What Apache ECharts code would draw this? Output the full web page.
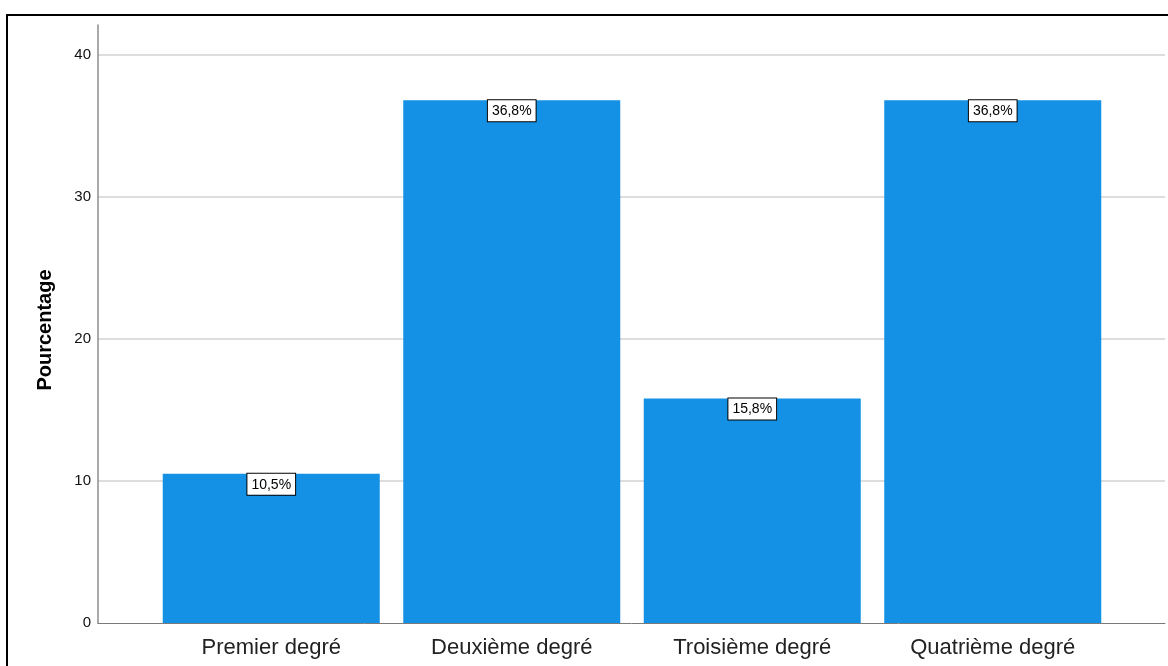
<!DOCTYPE html>
<html>
<head>
<meta charset="utf-8">
<script src="https://cdn.jsdelivr.net/npm/echarts@6/dist/echarts.min.js"></script>
<style>
  html, body { margin: 0; padding: 0; background: #fff; }
  #chart { width: 1168px; height: 666px; }
</style>
</head>
<body>
<div id="chart"></div>
<script>
// Degree distribution, percentages per category
const categories = ['Premier degré', 'Deuxième degré', 'Troisième degré', 'Quatrième degré'];
const percentages = [10.5, 36.8, 15.8, 36.8];
const yTicks = [0, 10, 20, 30, 40];

const Y_MAX = 42.1;
const BAR_COLOR = '#1491e5';
const FONT = 'Liberation Sans, Arial, sans-serif';

const chart = echarts.init(document.getElementById('chart'), null, { renderer: 'canvas' });

const fmtPct = v => v.toFixed(1).replace('.', ',') + '%';

chart.setOption({
  backgroundColor: '#fff',
  animation: false,
  grid: [
    // frame grid: y axis, gridlines, baseline
    { left: 98, right: 3, top: 25, bottom: 43, containLabel: false },
    // bar grid: narrower band for the four categories
    { left: 151, right: 55, top: 25, bottom: 43, containLabel: false }
  ],
  xAxis: [
    {
      gridIndex: 0, type: 'value', min: 0, max: 1,
      axisLine: { show: true, onZero: false, lineStyle: { color: '#7a7a7a', width: 1 } },
      axisTick: { show: false }, axisLabel: { show: false }, splitLine: { show: false }
    },
    {
      gridIndex: 1, type: 'category', data: categories,
      axisLine: { show: false }, axisTick: { show: false },
      axisLabel: {
        margin: 14, fontFamily: FONT, fontSize: 22, color: '#222'
      }
    }
  ],
  yAxis: [
    {
      gridIndex: 0, type: 'value', min: 0, max: Y_MAX, interval: 10,
      name: 'Pourcentage', nameLocation: 'middle', nameGap: 43, nameRotate: 90,
      nameTextStyle: { fontFamily: FONT, fontSize: 20, fontWeight: 'bold', color: '#000', padding: [0, 12, 0, 0] },
      axisLine: { show: true, lineStyle: { color: '#8c8c8c', width: 1.5 } },
      axisTick: { show: false },
      axisLabel: {
        margin: 7, fontFamily: FONT, fontSize: 15, color: '#111',
        formatter: v => (yTicks.includes(v) ? String(v) : '')
      },
      splitLine: {
        show: true,
        lineStyle: { color: ['transparent', '#d2d2d2', '#d2d2d2', '#d2d2d2', '#d2d2d2', 'transparent'], width: 1.5 }
      }
    },
    {
      gridIndex: 1, type: 'value', min: 0, max: Y_MAX,
      show: false, splitLine: { show: false }
    }
  ],
  series: [
    {
      type: 'bar',
      xAxisIndex: 1, yAxisIndex: 1,
      data: percentages,
      barWidth: 217,
      itemStyle: { color: BAR_COLOR },
      label: {
        show: true, position: 'insideTop', distance: 0,
        formatter: p => fmtPct(p.value),
        fontFamily: FONT, fontSize: 14, color: '#000',
        backgroundColor: '#fff', borderColor: '#000', borderWidth: 1,
        padding: [4, 4, 3, 4]
      }
    }
  ],
  graphic: [
    {
      type: 'rect', silent: true, z: 100,
      shape: { x: 7, y: 15, width: 1200, height: 700 },
      style: { fill: 'none', stroke: '#000', lineWidth: 2 }
    }
  ]
});
</script>
</body>
</html>
